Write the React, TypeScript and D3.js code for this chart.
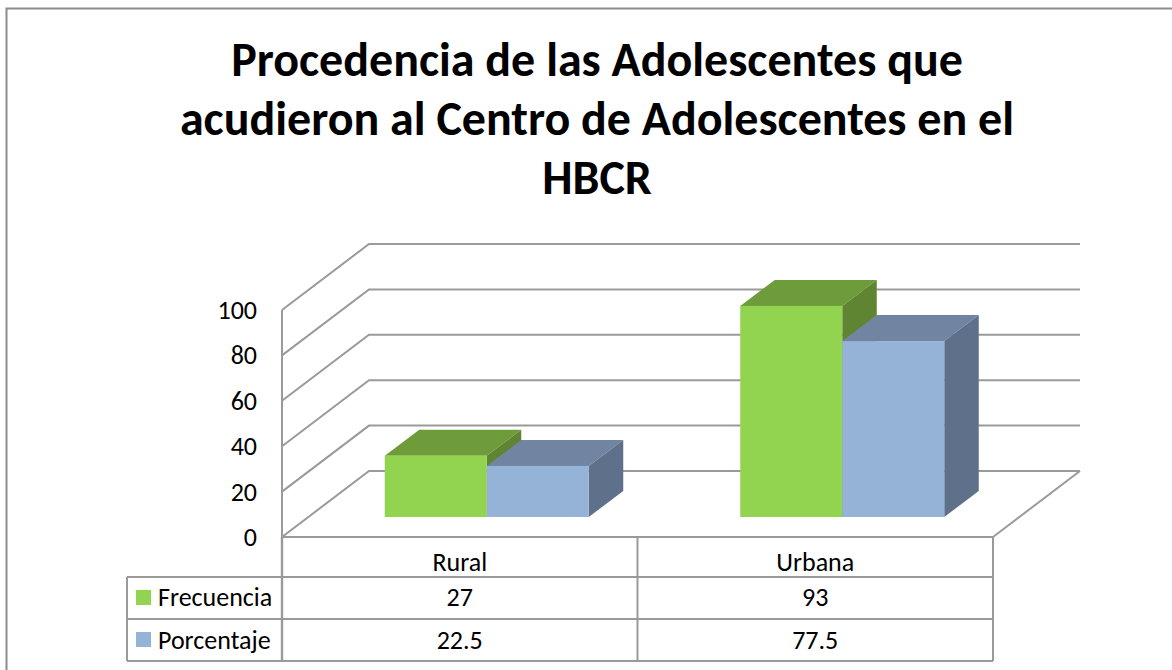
import React from 'react';
import * as d3 from 'd3';

const categories = ['Rural', 'Urbana'];
const seriesNames = ['Frecuencia', 'Porcentaje'];
const frecuencia = [27, 93];
const porcentaje = [22.5, 77.5];
const frecuenciaLabels = ['27', '93'];
const porcentajeLabels = ['22.5', '77.5'];
const yTicks = [0, 20, 40, 60, 80, 100];
const titleLines = ['Procedencia de las Adolescentes que', 'acudieron al Centro de Adolescentes en el', 'HBCR'];

const FRONT = { green: '#92d350', blue: '#95b3d7' };
const TOP = { green: '#6f9c3b', blue: '#7185a2' };
const SIDE = { green: '#5f8432', blue: '#5f718a' };
const GRID = '#9a9a9a';
const FONT = "Carlito, Calibri, Lato, 'Open Sans', sans-serif";

const y = d3.scaleLinear().domain([0, 100]).range([537, 310]);
const x = d3.scaleLinear().domain([0, 2]).range([282, 993]);
const DX = 87, DY = -66;
const BAR_DX = 34.5, BAR_DY = -26;
const BAR_BASE = -20;
const BAR_W = 102;
const BAR_SHIFT = 27;

const line = d3.line();

export default function App() {
  const bars: React.ReactNode[] = [];
  categories.forEach((c, i) => {
    const cx = x(i + 0.5) + BAR_SHIFT;
    [frecuencia[i], porcentaje[i]].forEach((v, k) => {
      const key = k === 0 ? 'green' : 'blue';
      const x0 = cx - BAR_W + k * BAR_W;
      const x1 = x0 + BAR_W;
      const yb = y(0) + BAR_BASE;
      const yt = yb - (y(0) - y(v));
      bars.push(
        <g key={c + k}>
          <path d={line([[x0, yt], [x1, yt], [x1 + BAR_DX, yt + BAR_DY], [x0 + BAR_DX, yt + BAR_DY]])! + 'Z'} fill={TOP[key]} />
          <path d={line([[x1, yt], [x1 + BAR_DX, yt + BAR_DY], [x1 + BAR_DX, yb + BAR_DY], [x1, yb]])! + 'Z'} fill={SIDE[key]} />
          <rect x={x0} y={yt} width={BAR_W} height={yb - yt} fill={FRONT[key]} />
        </g>
      );
    });
  });

  const rows = [537, 577, 619, 661];
  return (
    <svg width={1172} height={670} style={{ position: 'absolute', left: 0, top: 0, background: '#fff' }}>
      <path d="M6.5 670V8.5H1172" fill="none" stroke="#8c8c8c" strokeWidth={2} />
      <g fontFamily={FONT} fontWeight={700} fontSize={48} textAnchor="middle" fill="#000">
        {titleLines.map((t, i) => (
          <text key={t} x={597} y={76 + i * 59}>{t}</text>
        ))}
      </g>
      <g fill="none" stroke={GRID} strokeWidth={2}>
        {yTicks.map((t) => (
          <path key={t} d={line([[282, y(t)], [282 + DX, y(t) + DY], [993 + DX, y(t) + DY]])!} />
        ))}
        <path d={line([[282, y(0)], [282, y(100)]])!} />
        <path d={line([[993, y(0)], [993 + DX, y(0) + DY]])!} />
        <path d={line([[282, y(0)], [993, y(0)]])!} />
      </g>
      {bars}
      <g fontFamily={FONT} fontSize={26} fill="#000" textAnchor="end">
        {yTicks.map((t) => (
          <text key={t} x={257} y={y(t) + 9}>{t}</text>
        ))}
      </g>
      <g fill="none" stroke={GRID} strokeWidth={2}>
        <path d={line([[282, 537], [282, 661]])!} strokeWidth={2.4} />
        {[1, 2].map((i) => <path key={i} d={line([[x(i), 537], [x(i), 661]])!} />)}
        {rows.slice(1).map((r) => <path key={r} d={line([[127, r], [993, r]])!} />)}
        <path d={line([[127, 577], [127, 661]])!} />
      </g>
      <g fontFamily={FONT} fontSize={26} fill="#000" textAnchor="middle">
        {categories.map((c, i) => <text key={c} x={x(i + 0.5)} y={571}>{c}</text>)}
        {frecuenciaLabels.map((c, i) => <text key={i} x={x(i + 0.5)} y={606}>{c}</text>)}
        {porcentajeLabels.map((c, i) => <text key={i} x={x(i + 0.5)} y={649}>{c}</text>)}
      </g>
      {seriesNames.map((s, i) => (
        <g key={s}>
          <rect x={136} y={590 + i * 42} width={15} height={15} fill={i === 0 ? FRONT.green : FRONT.blue} />
          <text x={158} y={606 + i * 42.5} fontFamily={FONT} fontSize={26} fill="#000">{s}</text>
        </g>
      ))}
    </svg>
  );
}
